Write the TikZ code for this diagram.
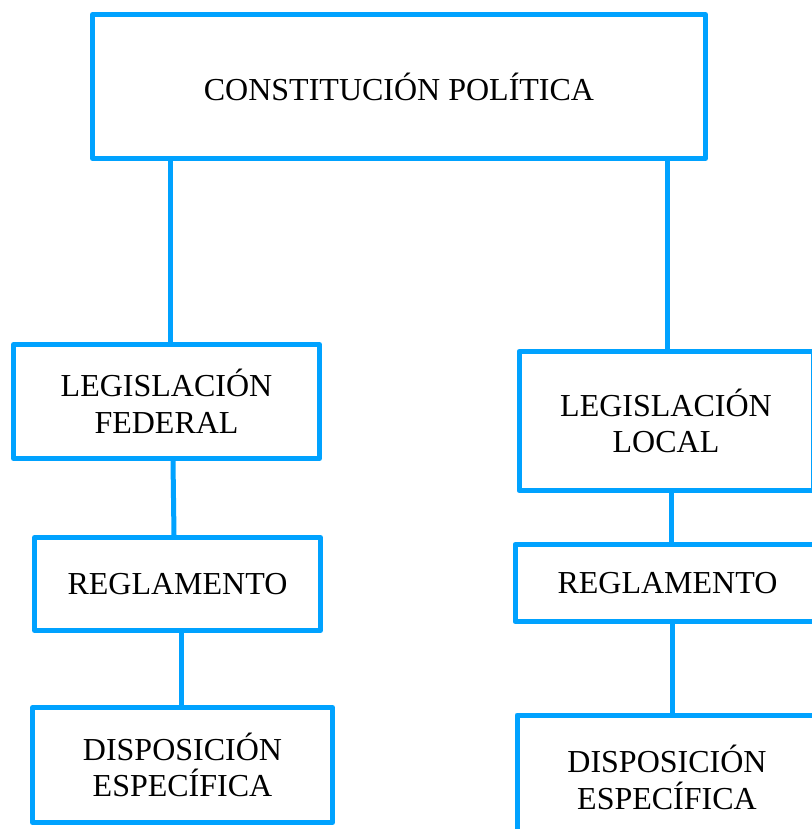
\documentclass[tikz,border=0pt]{standalone}
\usepackage{fontspec}
\setmainfont{Liberation Serif}
\definecolor{boxblue}{RGB}{0,162,255}
\begin{document}
\begin{tikzpicture}[x=0.75pt,y=-0.75pt,
  box/.style={draw=boxblue, line width=3.75pt, line join=round, inner sep=0pt,
    align=center, font=\fontsize{24}{27.5}\selectfont, text=black},
  link/.style={draw=boxblue, line width=3.75pt}]
\clip (0,0) rectangle (812,829);
\fill[white] (0,0) rectangle (812,829);
\node[box, minimum width=459.75pt, minimum height=108pt] (cp) at (399,86.5) {CONSTITUCIÓN POLÍTICA};
\node[box, minimum width=229.5pt, minimum height=85.5pt] (lf) at (166.5,401.5) {LEGISLACIÓN\\FEDERAL};
\node[box, minimum width=214.5pt, minimum height=69.75pt] (rl) at (177.5,584) {REGLAMENTO};
\node[box, minimum width=225pt, minimum height=86.25pt] (dl) at (182.5,765) {DISPOSICIÓN\\ESPECÍFICA};
\node[box, minimum width=220.5pt, minimum height=104.25pt] (ll) at (666,421) {LEGISLACIÓN\\LOCAL};
\node[box, minimum width=228.75pt, minimum height=57.75pt] (rr) at (667.5,583) {REGLAMENTO};
\node[box, minimum width=225pt, minimum height=93.75pt] (dr) at (667,777.5) {DISPOSICIÓN\\ESPECÍFICA};
\draw[link] (cp.south -| 170,0) -- (lf.north -| 170,0);
\draw[link] (cp.south -| 667,0) -- (ll.north -| 667,0);
\draw[link] (lf.south -| 173,0) -- (rl.north -| 174,0);
\draw[link] (rl.south -| 181,0) -- (dl.north -| 181,0);
\draw[link] (ll.south -| 671,0) -- (rr.north -| 671,0);
\draw[link] (rr.south -| 672,0) -- (dr.north -| 672,0);
\end{tikzpicture}
\end{document}
